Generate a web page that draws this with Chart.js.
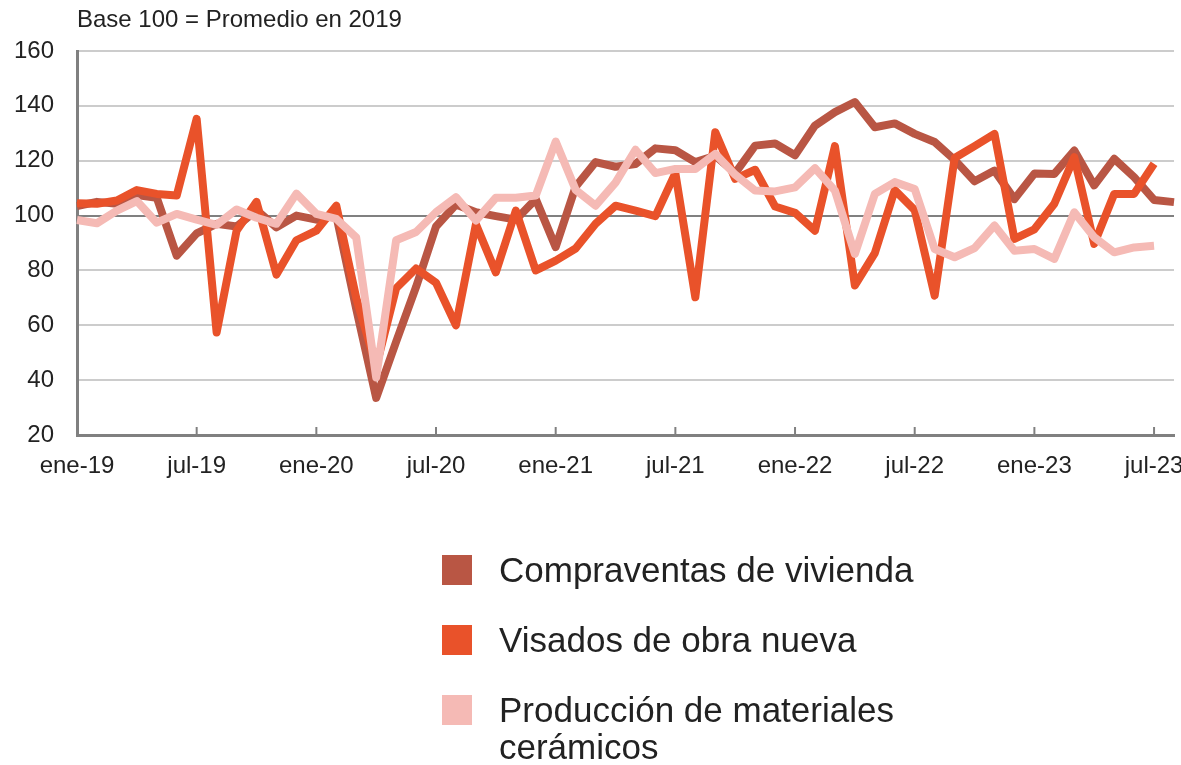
<!DOCTYPE html>
<html lang="es">
<head>
<meta charset="UTF-8">
<title>Compraventas, visados y producción de cerámicos</title>
<script src="https://cdn.jsdelivr.net/npm/chart.js@4.4.0/dist/chart.umd.min.js"></script>
<style>
  body { margin: 0; background: #fff; font-family: "Liberation Sans", Arial, sans-serif; color: #222; }
  .wrap { position: relative; width: 1181px; height: 765px; overflow: hidden; }
  canvas { position: absolute; left: 0; top: 0; }
  .titulo { position: absolute; left: 77px; top: 5px; font-size: 24px; line-height: 28px; }
  .leyenda { position: absolute; left: 442px; top: 551px; }
  .item { display: flex; align-items: flex-start; margin-bottom: 33px; }
  .cuadro { width: 30px; height: 30px; margin-top: 4px; margin-right: 27px; flex: none; }
  .txt { font-size: 35px; line-height: 37px; width: 420px; }
</style>
</head>
<body>
<div class="wrap">
  <canvas id="grafico" width="1181" height="765"></canvas>
  <div class="titulo">Base 100 = Promedio en 2019</div>
  <div class="leyenda" id="leyenda"></div>
</div>
<script>
// categorías: meses de ene-19 a ago-23
const meses = ['ene', 'feb', 'mar', 'abr', 'may', 'jun', 'jul', 'ago', 'sep', 'oct', 'nov', 'dic'];
const anios = ['19', '20', '21', '22', '23'];
const etiquetas = [];
anios.forEach(a => meses.forEach(m => etiquetas.push(m + '-' + a)));
etiquetas.length = 56;

const nombres = ['Compraventas de vivienda', 'Visados de obra nueva', 'Producción de materiales cerámicos'];
const colores = ['#b95644', '#e9522a', '#f5bab5'];

const compraventas = [
  103.5, 105, 104.3, 107.5, 106.5, 85.4, 93.5, 97, 96, 102, 95.7, 100,
  98.5, 100, 66, 33.5, 54, 74, 96, 104, 101.2, 99.8, 98.5, 106,
  88.5, 110.5, 119.5, 117.8, 118.8, 124.5, 123.8, 119.5, 121.8, 115.5, 125.5, 126.3,
  122, 132.8, 137.7, 141.4, 132.2, 133.6, 129.8, 126.8, 120.3, 112.5, 116.4, 106,
  115.3, 115.2, 123.7, 111, 120.7, 114, 105.7, 104.9
];
const visados = [
  104.5, 104.3, 105.5, 109.3, 107.9, 107.3, 135.3, 57.4, 94.5, 105, 78.5, 91,
  94.5, 103.6, 70, 45, 73.5, 80.7, 75.5, 60, 96.8, 79.3, 101.8, 80,
  83.6, 88, 97, 103.6, 101.8, 99.8, 115.5, 70.2, 130.4, 113.4, 116.7, 103.3,
  101, 94.5, 125.3, 74.5, 86.3, 109.3, 102, 70.8, 121, 125.3, 129.8, 91.5,
  95, 104.3, 121.3, 89.7, 107.9, 107.9, 118.9
];
const ceramicos = [
  98.4, 97.2, 101.8, 105.3, 97.4, 100.6, 98.5, 96.6, 102.2, 99.2, 97, 108,
  100.6, 98.8, 92, 41, 91, 94, 101.2, 106.7, 98.2, 106.5, 106.5, 107.3,
  127, 109.4, 103.6, 112, 124, 115.5, 117, 117, 122.5, 114.9, 109.1, 108.8,
  110.3, 117.3, 109.1, 86, 107.9, 112.2, 109.7, 87.8, 84.8, 88.1, 96.4, 87.2,
  87.8, 84.2, 101.2, 92.1, 86.6, 88.4, 89
];
const series = [compraventas, visados, ceramicos];

// leyenda en HTML
const leyenda = document.getElementById('leyenda');
nombres.forEach((n, i) => {
  const it = document.createElement('div');
  it.className = 'item';
  it.innerHTML = '<span class="cuadro" style="background:' + colores[i] + '"></span><span class="txt">' + n + '</span>';
  leyenda.appendChild(it);
});

// marcas pequeñas hacia dentro en el eje X, cada 6 meses
const marcasEje = {
  id: 'marcasEje',
  beforeDatasetsDraw(chart) {
    const x = chart.scales.x, ctx = chart.ctx, b = chart.chartArea.bottom;
    ctx.save();
    ctx.strokeStyle = '#808080';
    ctx.lineWidth = 2;
    for (let i = 6; i < etiquetas.length; i += 6) {
      const px = x.getPixelForValue(i);
      ctx.beginPath();
      ctx.moveTo(px, b - 8);
      ctx.lineTo(px, b);
      ctx.stroke();
    }
    ctx.restore();
  }
};

Chart.defaults.font.family = '"Liberation Sans", Arial, sans-serif';
Chart.defaults.font.size = 24;
Chart.defaults.color = '#222';

new Chart(document.getElementById('grafico'), {
  type: 'line',
  data: {
    labels: etiquetas,
    datasets: series.map((d, i) => ({
      label: nombres[i],
      data: d,
      borderColor: colores[i],
      backgroundColor: colores[i],
      borderWidth: 8,
      borderJoinStyle: 'round',
      pointRadius: 0,
      tension: 0,
      order: 3 - i
    }))
  },
  options: {
    responsive: false,
    animation: false,
    layout: { padding: { top: 51, right: 7, left: 0, bottom: 0 } },
    plugins: { legend: { display: false }, tooltip: { enabled: false }, title: { display: false } },
    scales: {
      x: {
        grid: { drawOnChartArea: false, drawTicks: false },
        border: { color: '#808080', width: 3 },
        ticks: {
          autoSkip: false, maxRotation: 0, minRotation: 0, padding: 17,
          callback: (v, i) => i % 6 === 0 ? etiquetas[i] : ''
        },
        afterFit: s => { s.height = 330; s.paddingLeft = 0; s.paddingRight = 0; }
      },
      y: {
        min: 20, max: 160,
        grid: {
          drawTicks: false, lineWidth: 2,
          color: c => c.tick && c.tick.value === 100 ? '#808080' : '#cccccc'
        },
        border: { color: '#808080', width: 3 },
        ticks: { stepSize: 20, padding: 23 },
        afterFit: s => { s.width = 77; }
      }
    }
  },
  plugins: [marcasEje]
});
</script>
</body>
</html>
